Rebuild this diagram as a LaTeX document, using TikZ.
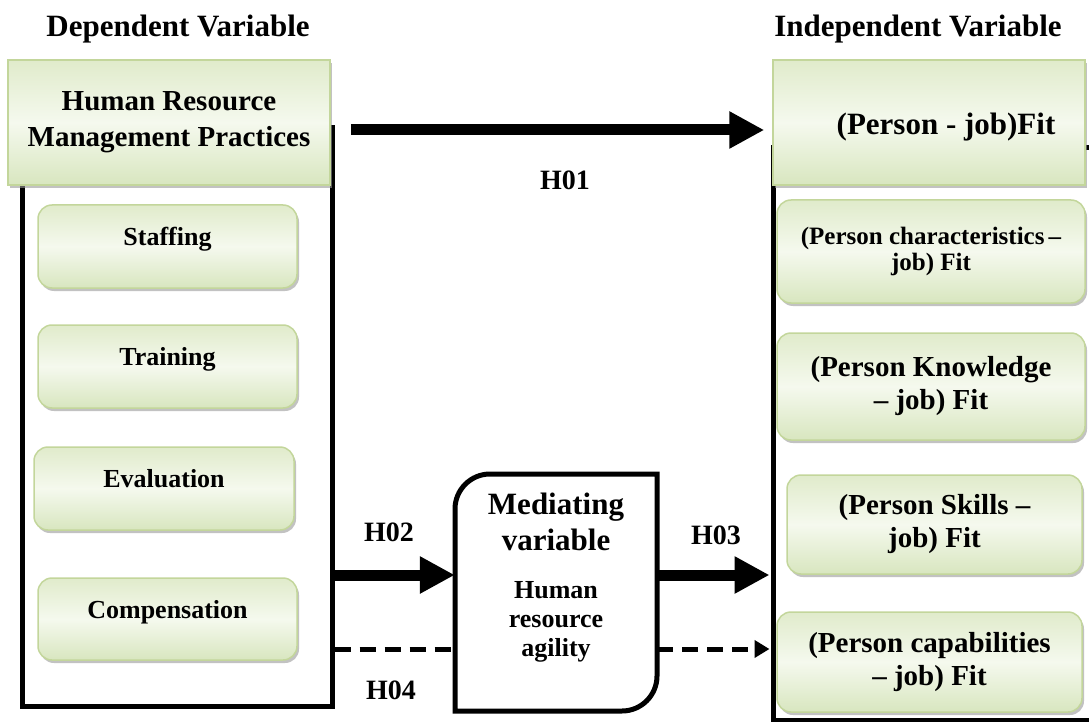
\documentclass[tikz,border=0pt]{standalone}
\usepackage{fontspec}
\setmainfont{Liberation Serif}
\usetikzlibrary{arrows.meta,shadows,positioning}
\definecolor{boxtop}{HTML}{E0EBCB}
\definecolor{boxmid}{HTML}{F5F9EE}
\definecolor{boxbot}{HTML}{D8E6BF}
\definecolor{boxline}{HTML}{C3D69B}
\tikzset{
  greenbox/.style={draw=boxline, line width=1.5pt, top color=boxtop, bottom color=boxbot, middle color=boxmid,
    drop shadow={shadow xshift=2pt, shadow yshift=-3pt, fill=black!40, opacity=.6}, inner sep=0pt},
  header/.style={greenbox, align=center, font=\bfseries\fontsize{29}{36}\selectfont},
  practice/.style={greenbox, rounded corners=14pt, text depth=20pt, font=\bfseries\fontsize{26}{30}\selectfont},
  fitbox/.style={greenbox, rounded corners=14pt, align=center, font=\bfseries\fontsize{29}{33}\selectfont},
  frame/.style={draw=black, line width=5pt, inner sep=0pt},
  title/.style={font=\bfseries\fontsize{31}{36}\selectfont},
  hyp/.style={font=\bfseries\fontsize{28}{32}\selectfont},
  bigarrow/.style={line width=11pt, -{Triangle[length=35pt,width=35pt]}},
  dasharrow/.style={line width=5pt, dash pattern=on 16pt off 9pt}
}
\begin{document}
\begin{tikzpicture}[x=1pt,y=-1pt]
  \useasboundingbox (0,0) rectangle (1089,722);
  % titles
  \node[title] (dvtitle) at (178,29) {Dependent Variable};
  \node[title] (ivtitle) at (918,29) {Independent Variable};
  % outer frames
  \node[frame, minimum width=310pt, minimum height=578pt] (dvbox) at (177,417) {};
  \node[frame, minimum width=319pt, minimum height=572pt] (ivbox) at (932.5,434) {};
  % headers
  \node[header, minimum width=322pt, minimum height=125pt] (hrm) at (169,122.5) {Human Resource\\Management Practices};
  \node[header, minimum width=312pt, minimum height=125pt] (pjbox) at (929,122.5) {};
  \node[title] (pjfit) at (946,127) {(Person - job)Fit};
  % practices
  \node[practice, minimum width=259pt, minimum height=83pt] (staff) at (167.5,246.5) {Staffing};
  \node[practice, minimum width=259pt, minimum height=83pt] (train) at (167.5,366.5) {Training};
  \node[practice, minimum width=260pt, minimum height=83pt] (eval) at (164,488.5) {Evaluation};
  \node[practice, minimum width=259pt, minimum height=82pt] (comp) at (167.5,619) {Compensation};
  % fit dimensions
  \node[fitbox, minimum width=308pt, minimum height=103pt, font=\bfseries\fontsize{25}{26}\selectfont] (charfit) at (931,251.5) {(Person characteristics\,–\\job) Fit};
  \node[fitbox, minimum width=308pt, minimum height=107pt] (knowfit) at (931,386.5) {(Person Knowledge\\– job) Fit};
  \node[fitbox, minimum width=295pt, minimum height=99pt] (skillfit) at (934.5,524.5) {(Person Skills –\\job) Fit};
  \node[fitbox, minimum width=305pt, minimum height=100pt] (capfit) at (929.5,662) {(Person capabilities\\– job) Fit};
  % mediating variable
  \node[minimum width=202pt, minimum height=237pt, inner sep=0pt] (med) at (556,592.5) {};
  \draw[line width=5pt, fill=white] (455,711) -- (455,509) .. controls (455,489.7) and (470.7,474) .. (490,474)
    -- (657,474) -- (657,676) .. controls (657,695.3) and (641.3,711) .. (622,711) -- cycle;
  \node[title, align=center] (medtitle) at (556,522) {Mediating\\variable};
  \node[hyp, align=center, font=\bfseries\fontsize{26}{29}\selectfont] (medbody) at (556,622) {Human\\resource\\agility};
  % hypotheses
  \coordinate (h1) at (0,130);
  \coordinate (h2) at (0,575);
  \coordinate (h4) at (0,649);
  \draw[bigarrow] ([xshift=20pt]hrm.east |- h1) -- ([xshift=-8pt]pjbox.west |- h1);
  \draw[bigarrow] (dvbox.east |- h2) -- (med.west |- h2);
  \draw[bigarrow] (med.east |- h2) -- ([xshift=-1pt]ivbox.west |- h2);
  \draw[dasharrow] (dvbox.east |- h4) -- (med.west |- h4);
  \draw[dasharrow, -{Triangle[length=15pt,width=17pt]}] (med.east |- h4) -- ([xshift=-1pt]ivbox.west |- h4);
  \node[hyp] (h01) at (565,180) {H01};
  \node[hyp] (h02) at (389,532) {H02};
  \node[hyp] (h03) at (716,535) {H03};
  \node[hyp] (h04) at (391,690) {H04};
\end{tikzpicture}
\end{document}
